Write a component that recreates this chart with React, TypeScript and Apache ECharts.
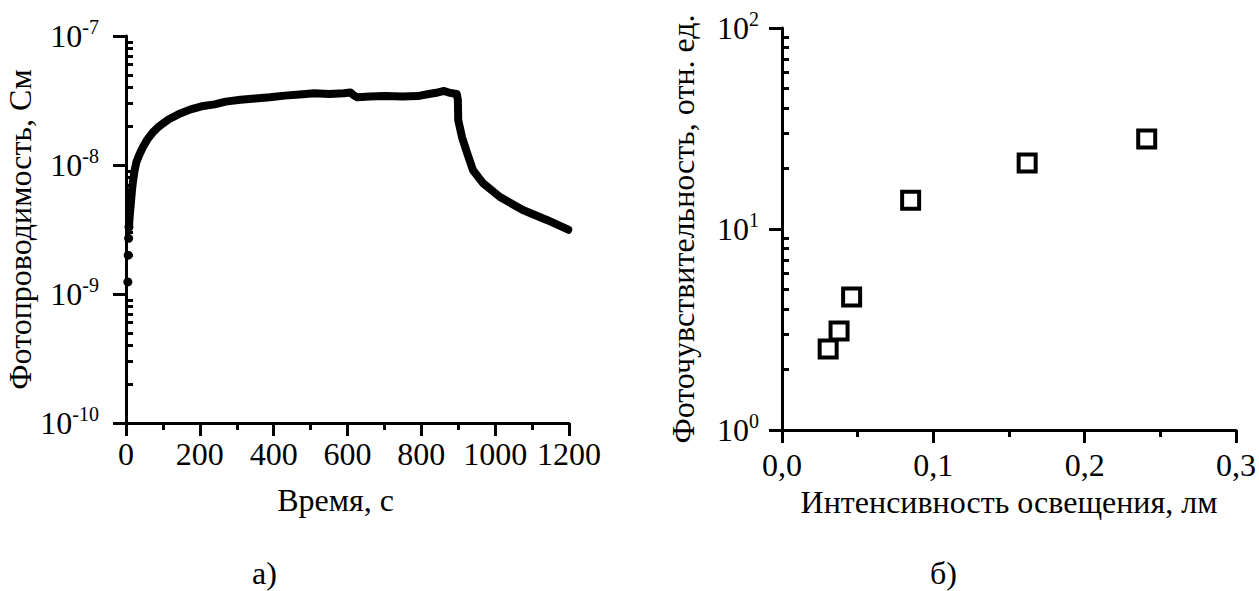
import React, { useEffect, useRef } from "react";
import * as echarts from "echarts";

// ---- Left panel (а): photoconductivity vs time ----
const startDotTimes = [5, 6, 7, 8];
const startDotValues = [1.24e-9, 2.0e-9, 2.7e-9, 3.3e-9];

const curveTimes = [
  8, 10, 13, 16, 19, 23, 28, 36, 46, 58, 72, 90, 115, 145, 175, 205, 240, 270,
  310, 350, 390, 430, 470, 510, 550, 590, 608, 616, 626, 660, 700, 750, 790,
  820, 845, 862, 878, 896, 899, 900, 910, 924, 940, 967, 1013, 1075, 1140, 1198,
];
const curveValues = [
  3.3e-9, 4.0e-9, 5.0e-9, 6.3e-9, 7.5e-9, 9.0e-9, 1.05e-8, 1.2e-8, 1.38e-8,
  1.58e-8, 1.78e-8, 2.0e-8, 2.25e-8, 2.5e-8, 2.7e-8, 2.85e-8, 2.95e-8, 3.1e-8,
  3.2e-8, 3.28e-8, 3.35e-8, 3.45e-8, 3.52e-8, 3.6e-8, 3.55e-8, 3.6e-8, 3.65e-8,
  3.48e-8, 3.35e-8, 3.4e-8, 3.42e-8, 3.4e-8, 3.42e-8, 3.55e-8, 3.65e-8, 3.75e-8,
  3.62e-8, 3.55e-8, 3.19e-8, 2.23e-8, 1.65e-8, 1.24e-8, 9.1e-9, 7.24e-9,
  5.65e-9, 4.48e-9, 3.75e-9, 3.15e-9,
];

// ---- Right panel (б): photosensitivity vs illumination ----
const intensity = [0.0305, 0.0377, 0.046, 0.085, 0.162, 0.241];
const sensitivity = [2.53, 3.11, 4.59, 13.9, 21.3, 28.0];

// ---- Axis tick definitions ----
const leftDecades = [-10, -9, -8];
const rightDecades = [0, 1];
const minorMultipliers = [2, 3, 4, 5, 6, 7, 8, 9];

const minorValues = (decades: number[]) => {
  const out: number[] = [];
  decades.forEach((d) => minorMultipliers.forEach((m) => out.push(m * Math.pow(10, d))));
  return out;
};

const FONT = "Liberation Serif";
const BLACK = "#000";
const FS = 32;

const supLabel = (v: number) => {
  const e = Math.round(Math.log10(v));
  return `{b|10}{s|${e}}`;
};
const supRich = {
  b: { fontSize: FS, fontFamily: FONT, color: BLACK },
  s: { fontSize: 20, fontFamily: FONT, color: BLACK, padding: [0, 0, 19, 0] },
};

const axisLine = { show: true, onZero: false, lineStyle: { color: BLACK, width: 3 } };
const txt = { fontSize: FS, fontFamily: FONT, color: BLACK };

export default function App() {
  const ref = useRef<HTMLDivElement>(null);

  useEffect(() => {
    if (!ref.current) return;
    const chart = echarts.init(ref.current, undefined, { renderer: "svg" });

    const xBase = (gridIndex: number) => ({
      type: "value" as const,
      gridIndex,
      nameLocation: "middle" as const,
      nameTextStyle: { ...txt },
      axisLine,
      axisTick: { show: true, length: 13, lineStyle: { color: BLACK, width: 3 } },
      minorTick: { show: true, splitNumber: 2, length: 7, lineStyle: { color: BLACK, width: 3 } },
      splitLine: { show: false },
      minorSplitLine: { show: false },
    });

    const yMajor = (gridIndex: number, min: number, max: number, name: string, nameGap: number, margin: number) => ({
      type: "log" as const,
      logBase: 10,
      gridIndex,
      min,
      max,
      name,
      nameLocation: "middle" as const,
      nameGap,
      nameTextStyle: { ...txt },
      axisLine,
      axisTick: { show: true, length: 13, lineStyle: { color: BLACK, width: 3 } },
      axisLabel: { ...txt, formatter: supLabel, rich: supRich, margin },
      splitLine: { show: false },
    });

    const yMinor = (gridIndex: number, min: number, max: number, decades: number[]) => ({
      type: "log" as const,
      logBase: 10,
      gridIndex,
      min,
      max,
      axisLine: { show: false },
      axisLabel: { show: false },
      axisTick: {
        show: true,
        length: 7,
        customValues: minorValues(decades),
        lineStyle: { color: BLACK, width: 3 },
      },
      splitLine: { show: false },
    });

    chart.setOption({
      animation: false,
      backgroundColor: "#fff",
      grid: [
        { left: 126, top: 36, width: 443, height: 387 },
        { left: 782, top: 28, width: 458, height: 402 },
      ],
      xAxis: [
        {
          ...xBase(0),
          min: 0,
          max: 1200,
          interval: 200,
          name: "Время, с",
          nameGap: 61,
          nameTextStyle: { ...txt, padding: [0, 24, 0, 0] },
          axisLabel: { ...txt, margin: 15, formatter: (v: number) => String(v) },
        },
        {
          ...xBase(1),
          min: 0,
          max: 0.3,
          interval: 0.1,
          name: "Интенсивность освещения, лм",
          nameGap: 56,
          axisLabel: {
            ...txt,
            margin: 19,
            formatter: (v: number) => v.toFixed(1).replace(".", ","),
          },
        },
      ],
      yAxis: [
        yMajor(0, 1e-10, 1e-7, "Фотопроводимость, См", 82, 27),
        yMinor(0, 1e-10, 1e-7, leftDecades),
        yMajor(1, 1, 100, "Фоточувствительность, отн. ед.", 83, 23),
        yMinor(1, 1, 100, rightDecades),
      ],
      graphic: [
        {
          type: "text",
          left: 252,
          top: 557,
          style: { text: "а)", fontSize: FS, fontFamily: FONT, fill: BLACK },
        },
        {
          type: "text",
          left: 930,
          top: 557,
          style: { text: "б)", fontSize: FS, fontFamily: FONT, fill: BLACK },
        },
      ],
      series: [
        {
          type: "line",
          xAxisIndex: 0,
          yAxisIndex: 0,
          data: curveTimes.map((t, i) => [t, curveValues[i]]),
          showSymbol: false,
          lineStyle: { color: BLACK, width: 8, cap: "round", join: "round" },
          itemStyle: { color: BLACK },
        },
        {
          type: "scatter",
          xAxisIndex: 0,
          yAxisIndex: 0,
          data: startDotTimes.map((t, i) => [t, startDotValues[i]]),
          symbol: "circle",
          symbolSize: 9,
          itemStyle: { color: BLACK, opacity: 1 },
        },
        {
          type: "scatter",
          xAxisIndex: 1,
          yAxisIndex: 2,
          data: intensity.map((x, i) => [x, sensitivity[i]]),
          symbol: "rect",
          symbolSize: 17,
          itemStyle: { color: "#fff", borderColor: BLACK, borderWidth: 4, opacity: 1 },
        },
      ],
    });

    return () => chart.dispose();
  }, []);

  return (
    <div
      ref={ref}
      style={{ position: "fixed", left: 0, top: 0, width: 1259, height: 591, background: "#fff" }}
    />
  );
}
